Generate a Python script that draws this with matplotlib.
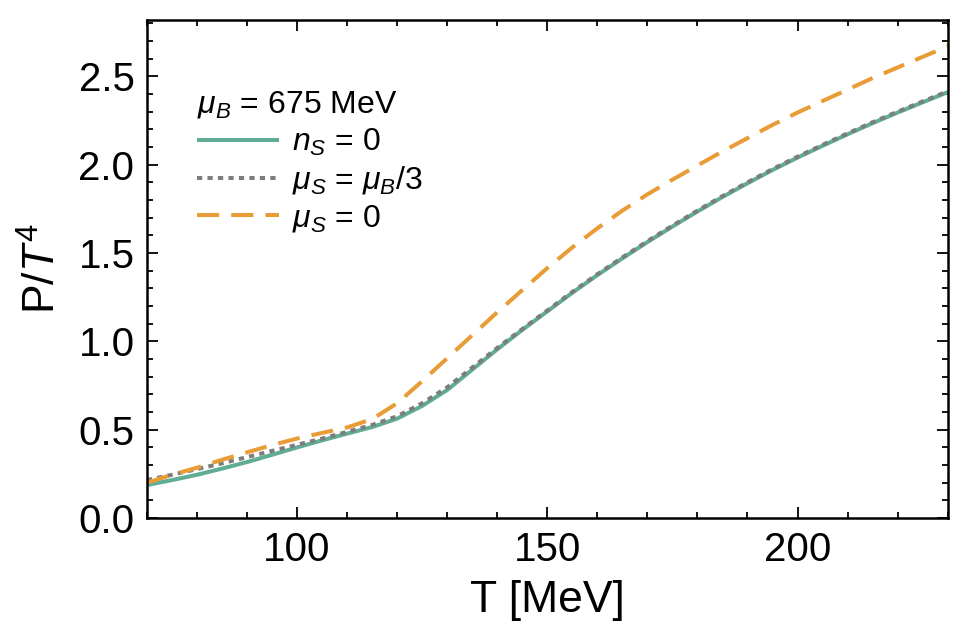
import numpy as np
import matplotlib
matplotlib.use("Agg")
import matplotlib.pyplot as plt
from matplotlib.ticker import MultipleLocator, FormatStrFormatter

plt.rcParams['font.family'] = ['Liberation Sans', 'DejaVu Sans']
plt.rcParams['mathtext.fontset'] = 'custom'
plt.rcParams['mathtext.rm'] = 'Liberation Sans'
plt.rcParams['mathtext.it'] = 'Liberation Sans:italic'
plt.rcParams['mathtext.bf'] = 'Liberation Sans:bold'

# temperature grid [MeV]
T = [70, 75, 80, 85, 90, 95, 100, 105, 110, 115, 120, 125, 130, 135, 140, 145, 150,
     155, 160, 165, 170, 175, 180, 185, 190, 195, 200, 205, 210, 215, 220, 225, 230]

# P/T^4
p_nS0 = [0.187, 0.215, 0.245, 0.28, 0.317, 0.358, 0.40, 0.44, 0.478, 0.515, 0.563, 0.635,
         0.725, 0.84, 0.955, 1.065, 1.17, 1.275, 1.375, 1.47, 1.562, 1.65, 1.735, 1.817,
         1.895, 1.97, 2.04, 2.107, 2.172, 2.235, 2.295, 2.353, 2.41]
p_muS_third = [0.215, 0.245, 0.277, 0.31, 0.345, 0.38, 0.415, 0.45, 0.488, 0.527, 0.576,
               0.65, 0.74, 0.852, 0.963, 1.07, 1.175, 1.28, 1.38, 1.475, 1.567, 1.655,
               1.74, 1.822, 1.9, 1.975, 2.045, 2.112, 2.177, 2.24, 2.3, 2.358, 2.415]
p_muS0 = [0.20, 0.245, 0.285, 0.33, 0.372, 0.413, 0.45, 0.482, 0.513, 0.56, 0.65, 0.775,
          0.905, 1.035, 1.165, 1.29, 1.415, 1.532, 1.64, 1.74, 1.832, 1.915, 1.995, 2.075,
          2.15, 2.225, 2.295, 2.36, 2.425, 2.49, 2.55, 2.61, 2.67]

teal = '#5fad96'
gray = '#7d7d7d'
orange = '#e99c35'

fig = plt.figure(figsize=(9.8, 6.38), dpi=100)
ax = fig.add_axes([0.15, 0.188, 0.817, 0.781])

ax.plot(T, p_nS0, color=teal, lw=2.9, solid_capstyle='butt', label=r'$n_S$ = 0')
ax.plot(T, p_muS_third, color=gray, lw=2.9, linestyle=(0, (1.3, 1.3)),
        label=r'$\mu_S$ = $\mu_B$/3')
ax.plot(T, p_muS0, color=orange, lw=2.9, linestyle=(0, (5.5, 3.0)), label=r'$\mu_S$ = 0')

ax.set_xlim(70, 230)
ax.set_ylim(0, 2.82)
ax.xaxis.set_major_locator(MultipleLocator(50))
ax.xaxis.set_minor_locator(MultipleLocator(10))
ax.yaxis.set_major_locator(MultipleLocator(0.5))
ax.yaxis.set_minor_locator(MultipleLocator(0.1))
ax.yaxis.set_major_formatter(FormatStrFormatter('%.1f'))
ax.tick_params(which='both', direction='in', top=True, right=True, labelsize=29, width=1.3)
ax.tick_params(which='major', length=8, pad=9)
ax.tick_params(which='minor', length=4.5)
for s in ax.spines.values():
    s.set_linewidth(1.8)

ax.set_xlabel('T [MeV]', fontsize=32, labelpad=8)
ax.set_ylabel(r'P/$T^4$', fontsize=32, labelpad=10)

leg = ax.legend(loc='upper left', bbox_to_anchor=(0.035, 0.905), frameon=False, fontsize=23,
                title=r'$\mu_B$ = 675 MeV', title_fontsize=23, handlelength=2.55,
                handletextpad=0.4, labelspacing=0.2, alignment='left', borderpad=0.2)

fig.savefig('out.png', dpi=100)
